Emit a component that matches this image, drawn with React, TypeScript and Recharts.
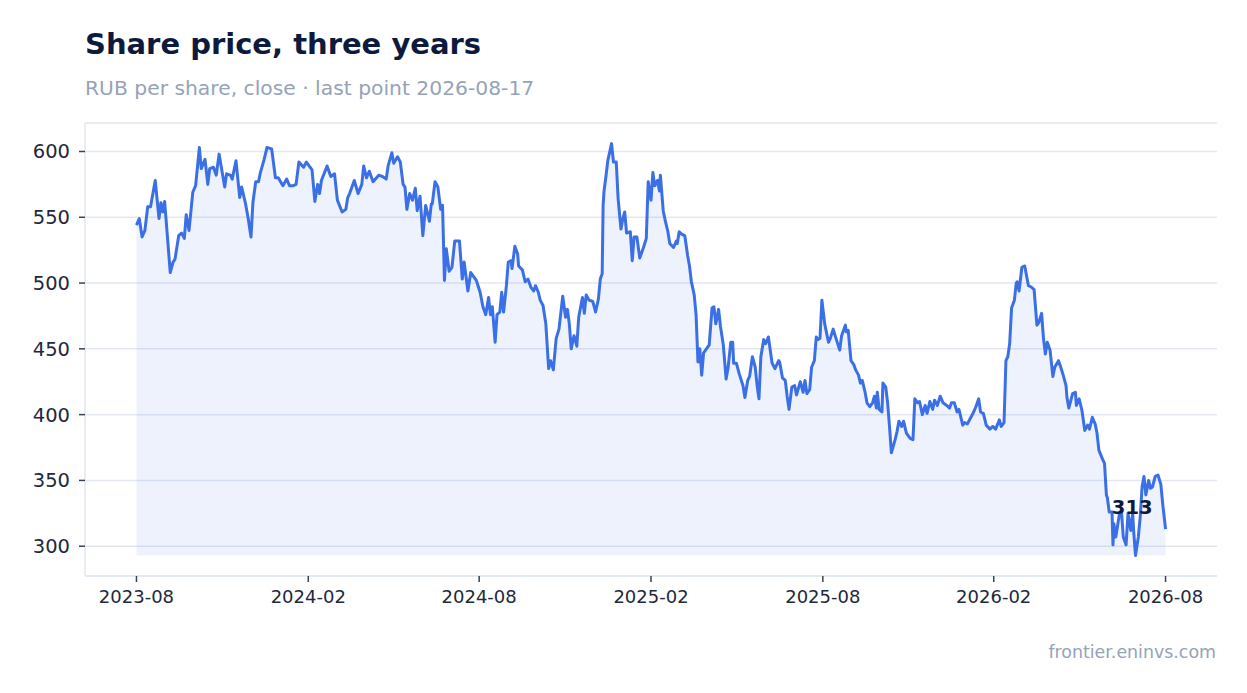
import { ComposedChart, Area, Line, XAxis, YAxis, CartesianGrid, LabelList } from "recharts";

const FONT = "DejaVu Sans";

// daily closes, sampled at turning points; x = days since 2023-08-17
const lastPointDate = "2026-08-17";
const dayOffsets = [
  0, 3, 6, 9, 12, 15, 20, 24, 26, 28, 30, 36, 39, 41, 45, 48, 51, 53, 56, 60, 63, 67, 69, 73, 76, 78, 82, 85, 88, 94,
  96, 100, 102, 106, 110, 112, 116, 119, 122, 124, 127, 130, 132, 136, 139, 144, 148, 151, 156, 160, 163, 167, 170,
  173, 178, 181, 187, 190, 193, 195, 197, 203, 207, 211, 214, 219, 223, 225, 227, 232, 236, 240, 242, 245, 248, 252,
  258, 262, 266, 268, 272, 274, 278, 281, 284, 286, 288, 291, 294, 297, 299, 302, 305, 308, 312, 314, 315, 318, 321,
  324, 326, 328, 330, 333, 336, 339, 344, 347, 349, 353, 356, 362, 366, 369, 372, 375, 377, 379, 382, 384, 387, 389,
  391, 394, 396, 399, 400, 403, 406, 407, 411, 414, 417, 420, 423, 425, 428, 430, 433, 436, 439, 441, 444, 447, 450,
  454, 457, 459, 461, 463, 466, 469, 471, 475, 477, 479, 482, 486, 489, 492, 494, 496, 497, 498, 500, 502, 506, 508,
  511, 513, 516, 518, 520, 522, 526, 528, 530, 533, 536, 540, 543, 545, 548, 550, 552, 555, 557, 558, 561, 563, 566,
  568, 572, 575, 576, 578, 581, 584, 587, 589, 591, 594, 596, 598, 600, 602, 604, 607, 610, 613, 615, 617, 620, 622,
  625, 628, 630, 633, 635, 636, 639, 642, 646, 648, 651, 653, 656, 659, 661, 663, 665, 668, 670, 673, 677, 680, 684,
  685, 688, 691, 693, 695, 698, 701, 703, 707, 710, 712, 714, 717, 719, 722, 724, 726, 728, 730, 733, 737, 739, 742,
  745, 749, 751, 755, 756, 758, 761, 764, 766, 769, 771, 773, 776, 778, 781, 784, 786, 788, 789, 791, 794, 795, 798,
  800, 802, 804, 808, 810, 812, 815, 817, 820, 824, 827, 829, 832, 834, 837, 840, 842, 845, 848, 850, 853, 856, 859,
  863, 866, 868, 871, 874, 876, 880, 882, 885, 888, 891, 894, 897, 899, 902, 905, 909, 912, 915, 919, 921, 924, 926,
  928, 930, 932, 935, 937, 938, 940, 943, 946, 950, 953, 956, 959, 961, 964, 966, 968, 970, 973, 976, 978, 982, 984,
  987, 990, 991, 993, 997, 1000, 1001, 1004, 1007, 1010, 1013, 1015, 1018, 1021, 1023, 1025, 1029, 1031, 1033, 1034,
  1036, 1039, 1040, 1041, 1043, 1045, 1047, 1049, 1051, 1054, 1056, 1059, 1061, 1062, 1064, 1067, 1069, 1071, 1073,
  1075, 1078, 1080, 1082, 1085, 1088, 1091, 1093, 1096,
];
const closePrices = [
  544, 549, 535, 540, 558, 558, 578, 549, 561, 554, 562, 508, 516, 518, 536, 538, 534, 552, 540, 569, 574, 603, 587,
  594, 575, 587, 588, 582, 598, 573, 583, 582, 579, 593, 565, 573, 561, 549, 535, 561, 577, 577, 584, 594, 603, 602,
  580, 580, 574, 579, 574, 574, 575, 592, 588, 592, 586, 562, 575, 568, 578, 589, 581, 583, 563, 554, 556, 565, 568,
  578, 568, 575, 589, 580, 585, 577, 582, 581, 579, 589, 599, 591, 596, 592, 575, 573, 556, 568, 563, 572, 555, 566,
  536, 559, 547, 560, 560, 577, 573, 556, 559, 502, 526, 509, 512, 532, 532, 503, 516, 494, 508, 502, 493, 482, 476,
  489, 476, 482, 455, 476, 478, 493, 478, 498, 516, 517, 511, 528, 522, 513, 510, 501, 503, 497, 494, 498, 493, 487,
  483, 469, 435, 441, 434, 458, 465, 490, 474, 480, 469, 450, 460, 452, 474, 489, 477, 491, 487, 486, 478, 488, 503,
  507, 559, 570, 581, 593, 606, 592, 592, 564, 541, 549, 554, 538, 539, 517, 535, 535, 519, 527, 534, 577, 563, 584,
  574, 578, 570, 582, 555, 548, 539, 530, 527, 532, 530, 539, 537, 536, 521, 513, 501, 491, 476, 440, 450, 430, 447,
  450, 453, 481, 482, 469, 480, 467, 453, 427, 435, 455, 455, 439, 439, 431, 422, 413, 426, 429, 444, 436, 422, 412,
  444, 457, 454, 459, 439, 435, 441, 440, 428, 426, 414, 404, 421, 422, 415, 425, 417, 426, 416, 419, 436, 441, 459,
  457, 458, 487, 469, 455, 458, 465, 458, 449, 460, 468, 463, 464, 441, 438, 434, 430, 424, 426, 417, 409, 406, 409,
  414, 405, 417, 404, 402, 424, 421, 409, 391, 371, 381, 387, 395, 391, 395, 386, 382, 381, 412, 409, 410, 400, 407,
  401, 410, 404, 411, 407, 414, 409, 407, 405, 409, 409, 402, 404, 392, 394, 393, 397, 401, 406, 412, 402, 401, 392,
  389, 391, 389, 396, 391, 394, 441, 444, 454, 481, 487, 500, 501, 494, 512, 513, 498, 497, 495, 468, 470, 477, 458,
  446, 455, 449, 429, 436, 441, 437, 430, 422, 413, 405, 416, 417, 407, 412, 403, 388, 392, 389, 398, 393, 386, 373,
  366, 363, 339, 337, 326, 326, 301, 317, 307, 316, 325, 327, 307, 301, 325, 312, 325, 312, 293, 307, 322, 345, 353,
  339, 350, 344, 345, 353, 354, 347, 332, 313,
];

const tickDays = [0, 183, 365, 548, 731, 913, 1096];
const tickLabels = ["2023-08", "2024-02", "2024-08", "2025-02", "2025-08", "2026-02", "2026-08"];
const priceTicks = [300, 350, 400, 450, 500, 550, 600];

const data = dayOffsets.map((day, i) => ({ day, price: closePrices[i] }));

const minPrice = Math.min(...closePrices);
const maxPrice = Math.max(...closePrices);
const yPad = (maxPrice - minPrice) * 0.05;
const lastDay = dayOffsets[dayOffsets.length - 1];
const xPad = lastDay * 0.05;
const lastIndex = data.length - 1;

function LastLabel(props: any) {
  const { x, y, index } = props;
  if (index !== lastIndex) return null;
  return (
    <text
      x={x - 13}
      y={y - 15}
      textAnchor="end"
      fontSize={19.5}
      fontWeight="bold"
      fontFamily={FONT}
      fill="#0c1a3d"
    >
      {closePrices[index]}
    </text>
  );
}

export default function App() {
  return (
    <div style={{ position: "absolute", left: 0, top: 0, width: 1247, height: 693, background: "#fff" }}>
      <svg width={1247} height={693} style={{ position: "absolute", left: 0, top: 0 }}>
        <text x={85} y={54} fontSize={29} fontWeight="bold" fontFamily={FONT} fill="#0c1a3d">
          Share price, three years
        </text>
        <text x={85} y={95} fontSize={20.3} fontFamily={FONT} fill="#94a3b8">
          RUB per share, close · last point {lastPointDate}
        </text>
        <text x={1216} y={658} fontSize={17.4} fontFamily={FONT} fill="#94a3b8" textAnchor="end">
          frontier.eninvs.com
        </text>
      </svg>
      <div style={{ position: "absolute", left: 0, top: 0 }}>
        <ComposedChart
          width={1247}
          height={693}
          data={data}
          margin={{ top: 123, right: 30, bottom: 77, left: 0 }}
        >
          <CartesianGrid vertical={false} stroke="#e3e8f0" strokeWidth={1.5} />
          <XAxis
            dataKey="day"
            type="number"
            domain={[-xPad, lastDay + xPad]}
            ticks={tickDays}
            tickFormatter={(d: number) => tickLabels[tickDays.indexOf(d)]}
            height={40}
            tickSize={6}
            tickMargin={8}
            axisLine={{ stroke: "#e2e8f0", strokeWidth: 1.5 }}
            tickLine={{ stroke: "#3a4150", strokeWidth: 1.5 }}
            tick={{ fill: "#1e293b", fontSize: 18, fontFamily: FONT }}
          />
          <YAxis
            type="number"
            domain={[minPrice - yPad, maxPrice + yPad]}
            ticks={priceTicks}
            width={85}
            tickSize={6}
            tickMargin={9}
            axisLine={{ stroke: "#e2e8f0", strokeWidth: 1.5 }}
            tickLine={{ stroke: "#3a4150", strokeWidth: 1.5 }}
            tick={{ fill: "#1e293b", fontSize: 19.5, fontFamily: FONT }}
          />
          <Area
            type="linear"
            dataKey="price"
            baseValue={minPrice}
            fill="#3b6fe6"
            fillOpacity={0.09}
            stroke="#3b6fe6"
            strokeOpacity={0.1}
            isAnimationActive={false}
          />
          <Line
            type="linear"
            dataKey="price"
            stroke="#3b6fe6"
            strokeWidth={3}
            strokeLinejoin="round"
            dot={false}
            activeDot={false}
            isAnimationActive={false}
          >
            <LabelList dataKey="price" content={<LastLabel />} />
          </Line>
        </ComposedChart>
      </div>
    </div>
  );
}
